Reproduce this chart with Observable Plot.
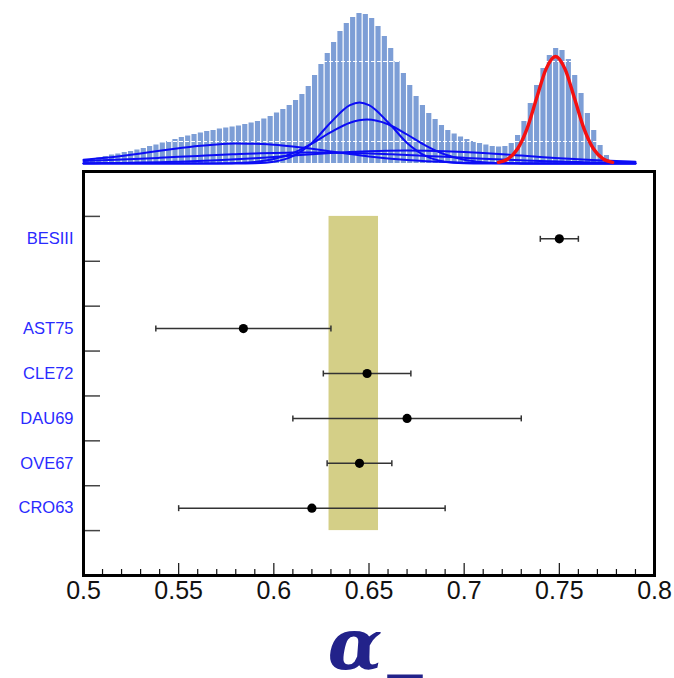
<!DOCTYPE html>
<html><head><meta charset="utf-8">
<script src="https://cdn.jsdelivr.net/npm/d3@7"></script>
<script src="https://cdn.jsdelivr.net/npm/@observablehq/plot@0.6"></script>
<style>
html,body{margin:0;padding:0;background:#fff;}
#chart svg{display:block;}
</style>
</head><body><div id="chart"></div>
<script>
// ---- measurements of alpha_- ----
const experiments = ["BESIII", "AST75", "CLE72", "DAU69", "OVE67", "CRO63"];
const alphaValues = [0.750, 0.584, 0.649, 0.670, 0.645, 0.620];
const alphaErrors = [0.010, 0.046, 0.023, 0.060, 0.017, 0.070];
// row order from top to bottom (null = empty row)
const rowOrder = ["BESIII", null, "AST75", "CLE72", "DAU69", "OVE67", "CRO63"];
// average band
const averageLow = 0.629, averageHigh = 0.655;
// x axis
const xTickValues = [0.5, 0.55, 0.6, 0.65, 0.7, 0.75, 0.8];
const xTickLabels = ["0.5", "0.55", "0.6", "0.65", "0.7", "0.75", "0.8"];
const axisTitle = "α_";

// ---- top histogram (bins of width 0.3/90 from 0.5) ----
const histStart = 0.5, histBinWidth = 0.3 / 90;
const histCounts = [
  3.5, 4.5, 5.5, 7, 8.5, 9.5, 11, 12, 13.5, 15,
  17, 18.5, 20.5, 22, 24, 26, 27.5, 29, 30.5, 32,
  33, 34.5, 35.5, 36.5, 37.5, 39, 40.5, 42, 44.5, 47,
  50.5, 54, 58, 63, 69, 77, 88, 99, 110, 121,
  132, 140, 146, 150, 149, 145, 137, 127, 115, 102,
  90, 78, 67, 58, 50, 44, 38, 33, 29.5, 26.5,
  24, 22, 20, 18.5, 17, 16.5, 17, 20, 28, 42,
  60, 78, 95, 108, 115, 113, 104, 88, 70, 50,
  33, 18, 8, 3, 1, 0, 0, 0, 0, 0
];
const histGridLevels = [22, 102];

// ---- component curves ----
const curveGrid = [0.50, 0.51, 0.52, 0.53, 0.54, 0.55, 0.56, 0.57, 0.58, 0.59,
                   0.60, 0.61, 0.62, 0.63, 0.64, 0.65, 0.66, 0.67, 0.68, 0.69,
                   0.70, 0.71, 0.72, 0.73, 0.74, 0.75, 0.76, 0.77, 0.78, 0.79];
const dauH = [0.2, 0.4, 0.6, 0.9, 1.2, 1.8, 2.4, 3.2, 4.2, 5.3,
              6.6, 7.9, 9.2, 10.4, 11.5, 12.3, 12.8, 13, 12.8, 12.3,
              11.5, 10.4, 9.2, 7.9, 6.6, 5.3, 4.2, 3.2, 2.4, 1.8];
const croH = [2.5, 3.2, 4.0, 4.8, 5.7, 6.7, 7.6, 8.5, 9.3, 10.0,
              10.6, 10.9, 11, 10.9, 10.6, 10.0, 9.3, 8.5, 7.6, 6.7,
              5.7, 4.8, 4.0, 3.2, 2.5, 2.0, 1.5, 1.1, 0.8, 0.6];
const astX = [0.50, 0.51, 0.52, 0.53, 0.54, 0.55, 0.56, 0.57, 0.58, 0.59,
              0.60, 0.61, 0.62, 0.63, 0.64, 0.65, 0.66, 0.67, 0.68, 0.69,
              0.70, 0.71, 0.72, 0.73, 0.74, 0.79];
const astH = [3.8, 5.5, 7.6, 10.0, 12.7, 15.2, 17.5, 19.1, 19.9, 19.8,
              18.8, 17.0, 14.7, 12.1, 9.5, 7.1, 5.1, 3.5, 2.3, 1.4,
              0.8, 0.5, 0.25, 0.1, 0.05, 0];
const cleX = [0.50, 0.56, 0.57, 0.58, 0.59, 0.60, 0.61, 0.62, 0.63, 0.64, 0.649,
              0.66, 0.67, 0.68, 0.69, 0.70, 0.71, 0.72, 0.73, 0.74, 0.79];
const cleH = [0, 0, 0.1, 0.5, 1.6, 4.5, 10.4, 19.9, 31.3, 40.8, 44,
              39.3, 29.0, 17.7, 9.0, 3.8, 1.3, 0.4, 0.1, 0, 0];
const oveX = [0.50, 0.58, 0.59, 0.60, 0.61, 0.62, 0.63, 0.64, 0.645,
              0.65, 0.66, 0.67, 0.68, 0.69, 0.70, 0.71, 0.79];
const oveH = [0, 0, 0.3, 1.8, 7.3, 20.6, 41.3, 58.4, 61,
              58.4, 41.3, 20.6, 7.3, 1.8, 0.3, 0, 0];
const besX = [0.718, 0.723, 0.728, 0.733, 0.738, 0.743, 0.748, 0.753, 0.758, 0.763, 0.768, 0.773, 0.778];
const besH = [1.2, 4.7, 14.5, 34.7, 64.9, 94.4, 107, 94.4, 64.9, 34.7, 14.5, 4.7, 1.2];

// ---- derived tables ----
const nRows = rowOrder.length;
const rows = experiments.map((name, i) => ({
  name, v: alphaValues[i], e: alphaErrors[i],
  y: nRows - rowOrder.indexOf(name) + 0.5
}));
const rowTicks = d3.range(1, nRows + 2);
const minorTicks = d3.range(51, 80).filter(k => k % 5 !== 0).map(k => k / 100);
const labelByY = new Map(rows.map(d => [d.y, d.name]));
const capSymbol = {draw(ctx, size) { const h = Math.sqrt(size / Math.PI); ctx.moveTo(0, -h); ctx.lineTo(0, h); }};
const blueCurves = [
  d3.zip(curveGrid, dauH), d3.zip(curveGrid, croH), d3.zip(astX, astH),
  d3.zip(cleX, cleH), d3.zip(oveX, oveH)
];
const titleStyle = {frameAnchor: "bottom", lineAnchor: "bottom", text: d => d,
  fontFamily: "'DejaVu Serif', 'Liberation Serif', serif", fontWeight: "bold", fontStyle: "italic",
  fontSize: 71, fill: "#22228a", textAnchor: "middle"};

const W = 674, ML = 83, MR = 20;

const topPlot = Plot.plot({
  width: W, height: 168, marginLeft: ML, marginRight: MR, marginTop: 13, marginBottom: 5,
  x: {domain: [0.5, 0.8], axis: null},
  y: {domain: [0, 150], axis: null},
  marks: [
    Plot.rectY(histCounts, {
      x1: (d, i) => histStart + i * histBinWidth,
      x2: (d, i) => histStart + (i + 1) * histBinWidth,
      y: d => d, fill: "#7d9ed6", insetLeft: 0.6, insetRight: 0.6
    }),
    Plot.ruleY(histGridLevels, {stroke: "white", strokeDasharray: "4,2", strokeWidth: 1}),
    ...blueCurves.map(c => Plot.line(c, {x: d => d[0], y: d => d[1], stroke: "#0c0cf5", strokeWidth: 2, curve: "monotone-x"})),
    Plot.line(d3.zip(besX, besH), {x: d => d[0], y: d => d[1], stroke: "#f51010", strokeWidth: 3.4, curve: "monotone-x"})
  ]
});

const mainPlot = Plot.plot({
  width: W, height: 510, marginLeft: ML, marginRight: MR, marginTop: 3, marginBottom: 103,
  x: {domain: [0.5, 0.8]},
  y: {domain: [0, nRows + 2]},
  style: {fontFamily: "'Liberation Sans', Arial, sans-serif", background: "white"},
  marks: [
    Plot.rect([averageLow], {x1: () => averageLow, x2: () => averageHigh,
      y1: () => rowTicks[0], y2: () => rowTicks[rowTicks.length - 1], fill: "#d4cf87"}),
    Plot.tickX(minorTicks, {x: d => d, insetTop: 404 - 6, stroke: "#111", strokeWidth: 1.2}),
    Plot.tickX(xTickValues, {x: d => d, insetTop: 404 - 12, stroke: "#111", strokeWidth: 1.2}),
    Plot.tickY(rowTicks, {y: d => d, insetRight: 571 - 17, stroke: "#444", strokeWidth: 1.5}),
    Plot.link(rows, {x1: d => d.v - d.e, x2: d => d.v + d.e, y1: "y", y2: "y", stroke: "#333", strokeWidth: 1.5}),
    Plot.dot(rows, {x: d => d.v - d.e, y: "y", symbol: capSymbol, r: 3, fill: "none", stroke: "#333", strokeWidth: 1.5}),
    Plot.dot(rows, {x: d => d.v + d.e, y: "y", symbol: capSymbol, r: 3, fill: "none", stroke: "#333", strokeWidth: 1.5}),
    Plot.dot(rows, {x: "v", y: "y", r: 4.6, fill: "black"}),
    Plot.frame({stroke: "black", strokeWidth: 3}),
    Plot.axisX({ticks: xTickValues, tickFormat: d => xTickLabels[xTickValues.indexOf(d)],
      tickSize: 0, tickPadding: 6, fontSize: 25, fill: "#111", label: null}),
    Plot.axisY({ticks: rows.map(d => d.y), tickFormat: d => labelByY.get(d),
      tickSize: 0, tickPadding: 10, fontSize: 16.5, fill: "#2a2aff", label: null}),
    // axis title: the Greek letter and its subscript bar
    Plot.text([axisTitle.slice(0, 1)], {...titleStyle, dx: -14, dy: 93}),
    Plot.text([axisTitle.slice(1)], {...titleStyle, dx: 36, dy: 88})
  ]
});

const root = document.getElementById("chart");
root.appendChild(topPlot);
root.appendChild(mainPlot);
</script>
</body></html>
